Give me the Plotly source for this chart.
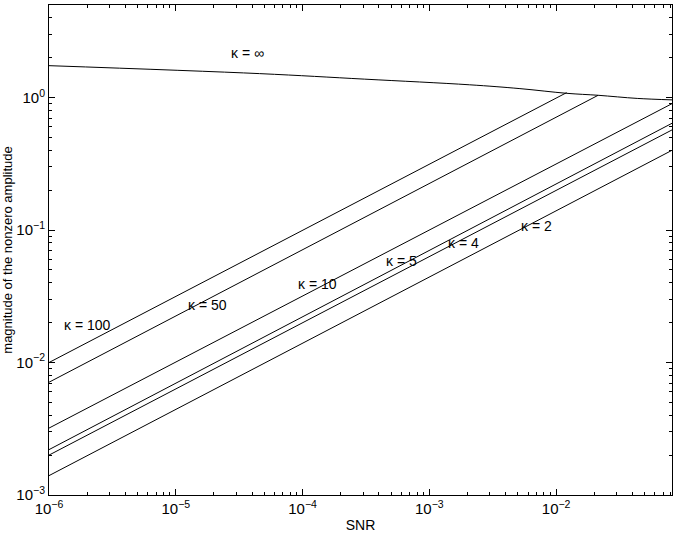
import math
import plotly.graph_objects as go

# SNR range of the plot
x_start = 1e-6
x_end = 0.082

# kappa lines: (label, y at x_start, x where it ends, y at end)
kappa_labels = ["κ = 100", "κ = 50", "κ = 10", "κ = 5", "κ = 4", "κ = 2"]
kappa_y_start = [0.0100, 0.0071, 0.0032, 0.0022, 0.0020, 0.0014]
kappa_x_end = [0.0121, 0.0214, 0.082, 0.082, 0.082, 0.082]
kappa_y_end = [1.09, 1.04, 0.90, 0.64, 0.57, 0.40]

# kappa = infinity curve
inf_x = [1e-6, 4.58e-5, 3.09e-4, 2.08e-3, 5.18e-3, 1.216e-2, 2.14e-2, 4.36e-2, 0.082]
inf_y = [1.742, 1.517, 1.378, 1.249, 1.169, 1.077, 1.041, 0.986, 0.961]

# label positions (data coords)
label_text = ["κ = ∞", "κ = 100", "κ = 50", "κ = 10", "κ = 5", "κ = 4", "κ = 2"]
label_x = [3.69e-5, 2.0e-6, 1.78e-5, 1.30e-4, 6.0e-4, 1.87e-3, 7.05e-3]
label_y = [2.18, 0.0191, 0.0271, 0.039, 0.0581, 0.0794, 0.1067]

x_tickvals = [1e-6, 1e-5, 1e-4, 1e-3, 1e-2]
x_ticktext = ["10<sup>−6</sup>", "10<sup>−5</sup>", "10<sup>−4</sup>", "10<sup>−3</sup>", "10<sup>−2</sup>"]
y_tickvals = [1e-3, 1e-2, 1e-1, 1]
y_ticktext = ["10<sup>−3</sup>", "10<sup>−2</sup>", "10<sup>−1</sup>", "10<sup>0</sup>"]

FONT = "Liberation Sans, Arial, Helvetica, sans-serif"

fig = go.Figure()

fig.add_trace(go.Scatter(
    x=inf_x, y=inf_y, mode="lines", line_shape="spline",
    line=dict(color="black", width=1), showlegend=False,
))

for name, y0, x1, y1 in zip(kappa_labels, kappa_y_start, kappa_x_end, kappa_y_end):
    fig.add_trace(go.Scatter(
        x=[x_start, x1], y=[y0, y1], mode="lines", name=name,
        line=dict(color="black", width=1), showlegend=False,
    ))

# annotations on log axes take log10 positions
for t, lx, ly in zip(label_text, label_x, label_y):
    fig.add_annotation(
        x=math.log10(lx), y=math.log10(ly), xref="x", yref="y",
        text=t, showarrow=False,
        font=dict(family=FONT, size=14, color="black"),
    )

axis_common = dict(
    type="log",
    automargin=False,
    showgrid=False,
    zeroline=False,
    showline=True,
    linecolor="black",
    linewidth=1,
    mirror="ticks",
    ticks="inside",
    ticklen=6,
    tickcolor="black",
    tickfont=dict(family=FONT, size=15, color="black"),
    minor=dict(ticks="inside", ticklen=3, tickcolor="black", dtick="D1", showgrid=False),
)

fig.update_xaxes(
    **axis_common,
    range=[math.log10(x_start), math.log10(x_end)],
    tickvals=x_tickvals, ticktext=x_ticktext,
    title=dict(text="SNR", font=dict(family=FONT, size=14, color="black"), standoff=4),
)
fig.update_yaxes(
    **axis_common,
    range=[-3, 0.699],
    tickvals=y_tickvals, ticktext=y_ticktext,
    title=dict(text="magnitude of the nonzero amplitude",
               font=dict(family=FONT, size=13, color="black"), standoff=2),
)

fig.update_layout(
    width=678, height=537,
    margin=dict(l=49, r=6, t=5, b=42),
    plot_bgcolor="white",
    paper_bgcolor="white",
    font=dict(family=FONT, color="black"),
)

# drop the default 8px page margin so the figure sits at the window's corner
fig.write_html("out.html", config={"displayModeBar": False},
               post_script="document.body.style.margin='0';")
